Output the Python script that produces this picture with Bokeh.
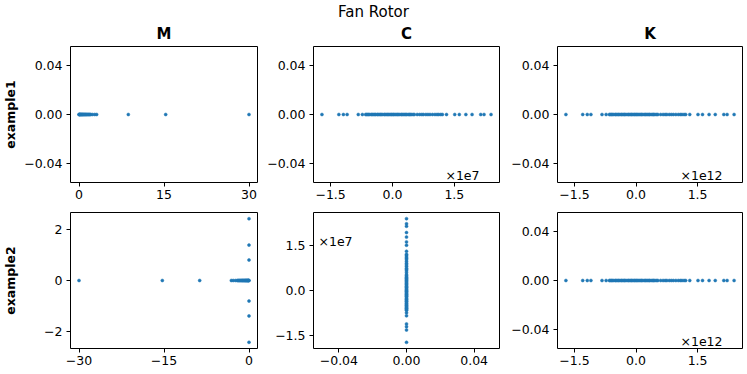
from bokeh.plotting import figure
from bokeh.layouts import column, row
from bokeh.models import Range1d, FixedTicker
from bokeh.core.properties import value
from bokeh.embed import file_html
from bokeh.resources import INLINE

# ---------------- data ----------------
TITLE = "Fan Rotor"
COL_TITLES = ["M", "C", "K"]
ROW_TITLES = ["example1", "example2"]

# M: real values (example1), example2 uses their negatives plus imaginary pairs
m_vals = [0.0, 0.05, 0.1, 0.15, 0.22, 0.3, 0.38, 0.45, 0.55, 0.62, 0.7, 0.8,
          0.9, 1.0, 1.1, 1.2, 1.3, 1.42, 1.55, 1.66, 1.8, 1.92, 2.05,
          2.36, 2.77, 3.12, 8.7, 15.3, 30.0]
m2_imag = [2.41, 1.38, 0.80, -0.80, -1.38, -2.41]

# C values in units of 1e7, K values in units of 1e12
c_vals = [-1.71, -1.30, -1.19, -1.10, -0.83, -0.73,
          -0.65, -0.63, -0.60, -0.58, -0.55, -0.51, -0.49, -0.46, -0.43, -0.41,
          -0.37, -0.35, -0.32, -0.29, -0.27, -0.24, -0.20, -0.18, -0.15, -0.12,
          -0.10, -0.07, -0.04, -0.02, 0.01, 0.03, 0.06, 0.09, 0.12, 0.14, 0.17,
          0.21, 0.23, 0.26, 0.29, 0.32, 0.34, 0.38, 0.41, 0.43, 0.46, 0.50, 0.53,
          0.60, 0.66, 0.71, 0.75, 0.81, 0.86, 0.91, 0.97, 1.03, 1.08, 1.12, 1.17, 1.21,
          1.31, 1.51, 1.62, 1.78, 1.93, 2.14, 2.22, 2.39]
k_vals = list(c_vals)
C_SCALE_LABEL = "×1e7"
K_SCALE_LABEL = "×1e12"

m1_xticks = [0, 15, 30]
m1_xlabels = ["0", "15", "30"]
m2_xticks = [-30, -15, 0]
m2_xlabels = ["−30", "−15", "0"]
m2_yticks = [-2, 0, 2]
m2_ylabels = ["−2", "0", "2"]
zero_ticks = [-0.04, 0.0, 0.04]
zero_labels = ["−0.04", "0.00", "0.04"]
sci_ticks = [-1.5, 0.0, 1.5]
sci_labels = ["−1.5", "0.0", "1.5"]

# ---------------- layout constants ----------------
FONT = "DejaVu Sans"
BLUE = "#1f77b4"
STRIP_H = 44
FW = [187, 186, 185]
FH = 136
BL = [70, 51, 53]
BR = [5, 5, 4]
BT = [2, 4]
BB = [26, 26]
TOTAL_W = sum(BL) + sum(FW) + sum(BR)


def auto_range(vals):
    lo, hi = min(vals), max(vals)
    if lo == hi:
        lo, hi = lo - 0.05, hi + 0.05
    m = (hi - lo) * 0.05
    return (lo - m, hi + m)


def make_fig(ci, ri, xs, ys, xticks, xlabels, yticks, ylabels):
    xr = auto_range(xs)
    yr = auto_range(ys)
    p = figure(width=BL[ci] + FW[ci] + BR[ci], height=BT[ri] + FH + BB[ri],
               x_range=Range1d(*xr), y_range=Range1d(*yr), title=None,
               toolbar_location=None, output_backend="svg",
               min_border_left=BL[ci], min_border_right=BR[ci],
               min_border_top=BT[ri], min_border_bottom=BB[ri])
    p.outline_line_color = "black"
    p.outline_line_width = 1
    p.outline_line_alpha = 1
    p.xgrid.visible = False
    p.ygrid.visible = False
    p.background_fill_color = "white"
    p.border_fill_color = "white"
    for ax, t, l in ((p.xaxis[0], xticks, xlabels), (p.yaxis[0], yticks, ylabels)):
        ax.ticker = FixedTicker(ticks=t)
        ax.major_label_overrides = {float(a): b for a, b in zip(t, l)}
        ax.axis_line_color = None
        ax.major_tick_line_color = "black"
        ax.major_tick_in = 0
        ax.major_tick_out = 4
        ax.minor_tick_line_color = None
        ax.major_label_text_font = FONT
        ax.major_label_text_font_size = "12.5px"
        ax.major_label_text_color = "black"
        ax.major_label_standoff = 4
    p.xaxis[0].major_label_standoff = 3
    p.scatter(xs, ys, size=3, fill_color=BLUE, line_color=BLUE, line_width=0.5)
    return p, xr, yr


def add_scale(p, xr, yr, label, where):
    if where == "br":
        p.text(x=[xr[1]], y=[yr[0]], text=[label], x_offset=-20, y_offset=-7,
               text_align="right", text_baseline="alphabetic",
               text_font=value(FONT), text_font_size="12.5px", text_color="black")
    else:
        p.text(x=[xr[0]], y=[yr[1]], text=[label], x_offset=5, y_offset=29,
               text_align="left", text_baseline="alphabetic",
               text_font=value(FONT), text_font_size="12.5px", text_color="black")


def zeros(n):
    return [0.0] * n


# row 1
f1, _, _ = make_fig(0, 0, m_vals, zeros(len(m_vals)), m1_xticks, m1_xlabels, zero_ticks, zero_labels)
f2, xr2, yr2 = make_fig(1, 0, c_vals, zeros(len(c_vals)), sci_ticks, sci_labels, zero_ticks, zero_labels)
add_scale(f2, xr2, yr2, C_SCALE_LABEL, "br")
f3, xr3, yr3 = make_fig(2, 0, k_vals, zeros(len(k_vals)), sci_ticks, sci_labels, zero_ticks, zero_labels)
add_scale(f3, xr3, yr3, K_SCALE_LABEL, "br")

# row 2
m2_x = [-v for v in m_vals] + zeros(len(m2_imag))
m2_y = zeros(len(m_vals)) + m2_imag
f4, _, _ = make_fig(0, 1, m2_x, m2_y, m2_xticks, m2_xlabels, m2_yticks, m2_ylabels)
f5, xr5, yr5 = make_fig(1, 1, zeros(len(c_vals)), c_vals, zero_ticks, zero_labels, sci_ticks, sci_labels)
add_scale(f5, xr5, yr5, C_SCALE_LABEL, "tl")
f6, xr6, yr6 = make_fig(2, 1, k_vals, zeros(len(k_vals)), sci_ticks, sci_labels, zero_ticks, zero_labels)
add_scale(f6, xr6, yr6, K_SCALE_LABEL, "br")

for f, lab, st in ((f1, ROW_TITLES[0], 3), (f4, ROW_TITLES[1], 23)):
    f.yaxis[0].axis_label = lab
    f.yaxis[0].axis_label_text_font = FONT
    f.yaxis[0].axis_label_text_font_style = "bold"
    f.yaxis[0].axis_label_text_font_size = "12.5px"
    f.yaxis[0].axis_label_text_color = "black"
    f.yaxis[0].axis_label_standoff = st

# title strip
strip = figure(width=TOTAL_W, height=STRIP_H, x_range=Range1d(0, TOTAL_W),
               y_range=Range1d(0, STRIP_H), x_axis_type=None, y_axis_type=None,
               title=None, toolbar_location=None, output_backend="svg",
               min_border=0, min_border_left=0, min_border_right=0,
               min_border_top=0, min_border_bottom=0)
strip.outline_line_color = None
strip.text(x=[373], y=[STRIP_H - 11.5], text=[TITLE], text_align="center",
           text_baseline="alphabetic", text_font=value(FONT),
           text_font_size="15px", text_color="black")
centers = []
acc = 0
for ci in range(3):
    centers.append(acc + BL[ci] + FW[ci] / 2)
    acc += BL[ci] + FW[ci] + BR[ci]
strip.text(x=centers, y=[STRIP_H - 33.8] * 3, text=COL_TITLES, text_align="center",
           text_baseline="alphabetic", text_font=value(FONT),
           text_font_size="15px", text_font_style="bold", text_color="black")

layout = column(strip, row(f1, f2, f3), row(f4, f5, f6))
open("out.html", "w").write(file_html(layout, INLINE))
